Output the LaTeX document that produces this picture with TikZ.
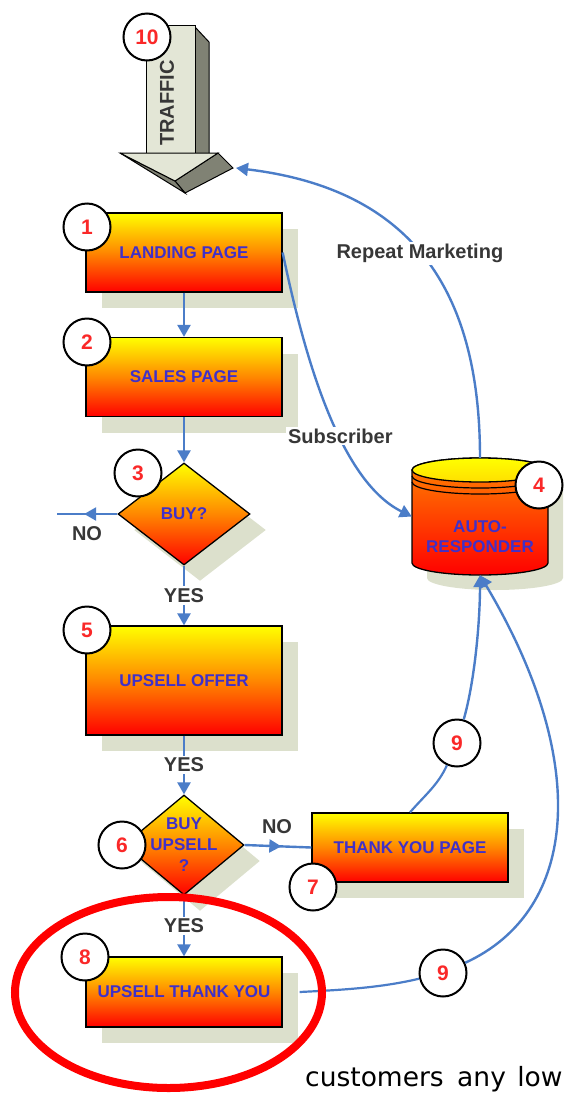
\documentclass[tikz,border=0pt]{standalone}
\usepackage{fontspec}
\setsansfont{Liberation Sans}
\newfontfamily\bodyfont{DejaVu Sans}
\usetikzlibrary{shapes.geometric,shadows,arrows.meta,decorations.markings}

\definecolor{boxblue}{RGB}{64,48,200}
\definecolor{flowblue}{RGB}{75,125,200}
\definecolor{shadowgrey}{RGB}{220,224,204}
\definecolor{darkface}{RGB}{128,130,116}
\definecolor{labelgrey}{RGB}{55,55,55}
\definecolor{numred}{RGB}{250,40,40}
\definecolor{midorange}{RGB}{255,135,0}

\tikzset{
  pagebox/.style={draw=black, line width=1.3pt, top color=yellow, bottom color=red, middle color=midorange,
    minimum width=196pt, minimum height=79pt, inner sep=0pt,
    font=\sffamily\bfseries\fontsize{17}{21}\selectfont, text=boxblue,
    general shadow={fill=shadowgrey, shadow xshift=16pt, shadow yshift=-16pt}},
  decision/.style={pagebox, diamond, minimum width=132pt, minimum height=102pt, inner sep=-6pt, align=center},
  stepnum/.style={circle, draw=black, line width=2pt, fill=white, minimum size=47pt, inner sep=0pt,
    font=\sffamily\bfseries\fontsize{21}{21}\selectfont, text=numred},
  flow/.style={color=flowblue, line width=2.4pt, -{Triangle[width=13pt,length=12pt]}},
  link/.style={color=flowblue, line width=2.2pt},
  midflow/.style={color=flowblue, line width=2.4pt, postaction={decorate},
    decoration={markings, mark=at position 0.55 with {\arrow{Triangle[width=13pt,length=12pt]}}}},
  lbl/.style={font=\sffamily\bfseries\fontsize{20}{20}\selectfont, text=labelgrey, fill=white, inner sep=2pt},
}

\begin{document}
\begin{tikzpicture}[x=1pt,y=1pt,yscale=-1,xscale=1]
\useasboundingbox (0,0) rectangle (565,1093);
\clip (0,0) rectangle (565,1093);

%Traffic arrow
\fill[darkface,draw=black,line width=1pt] (195,27) -- (209,42) -- (209,160) -- (195,160) -- cycle ;
\fill[shadowgrey!80!white,draw=black,line width=1pt] (146,25) -- (195,25) -- (195,153) -- (146,153) -- cycle ;
\fill[darkface,draw=black,line width=1pt] (218,153) -- (233,168) -- (185,193) -- (175,181) -- cycle ;
\fill[darkface,draw=black,line width=1pt] (120,153) -- (175,181) -- (185,193) -- cycle ;
\fill[shadowgrey!80!white,draw=black,line width=1pt] (120,153) -- (218,153) -- (175,181) -- cycle ;
\node[rotate=90, font=\sffamily\bfseries\fontsize{20}{20}\selectfont, text=labelgrey] (traffic) at (167,103) {TRAFFIC};
\coordinate (trafficend) at (236,168);

%Boxes and decisions
\node[pagebox] (landing) at (184,252.5) {LANDING PAGE};
\node[pagebox] (sales) at (184,377) {SALES PAGE};
\node[decision] (buy) at (184,514) {BUY?};
\node[pagebox, minimum height=109pt] (upsell) at (184,680.5) {UPSELL OFFER};
\node[decision, minimum width=120pt, minimum height=100pt] (buyup) at (184,845) {BUY\\UPSELL\\?};
\node[pagebox, minimum height=69pt] (thanks) at (410,847.5) {THANK YOU PAGE};
\node[pagebox, minimum height=70pt] (upthanks) at (184,992) {UPSELL THANK YOU};

%Auto-responder cylinder
\fill[shadowgrey] (427,485) -- (427,578) arc[start angle=180,end angle=0,x radius=68,y radius=12] -- (563,485) arc[start angle=0,end angle=-180,x radius=68,y radius=12] -- cycle ;
\shade[top color=midorange, bottom color=red, draw=black, line width=1.3pt] (412,470) -- (412,563) arc[start angle=180,end angle=0,x radius=68,y radius=12] -- (548,470) arc[start angle=0,end angle=-180,x radius=68,y radius=12] -- cycle ;
\shade[top color=yellow, bottom color=yellow!75!orange, draw=black, line width=1.3pt] (480,470) ellipse [x radius=68, y radius=12];
\draw[line width=1.2pt] (412,476) arc[start angle=180,end angle=0,x radius=68,y radius=12];
\draw[line width=1.2pt] (412,482) arc[start angle=180,end angle=0,x radius=68,y radius=12];
\node[minimum width=136pt, minimum height=117pt, inner sep=0pt] (auto) at (480,516.5) {};
\node[font=\sffamily\bfseries\fontsize{17}{20}\selectfont, text=boxblue, align=center] (autotext) at (480,537) {AUTO-\\RESPONDER};

%Connectors
\coordinate (noend) at (57,514);
\draw[flow] (landing) -- (sales);
\draw[flow] (sales) -- (buy);
\draw[flow] (buy) -- node[lbl]{YES} (upsell);
\draw[midflow] (buy.west) -- (noend);
\node[lbl, fill=none] (nobuy) at (87,534) {NO};
\draw[flow] (upsell) -- node[lbl]{YES} (buyup);
\draw[flow] (buyup) -- node[lbl]{YES} (upthanks);
\draw[midflow] (buyup.east) -- (thanks.west);
\node[lbl, fill=none] (noup) at (277,827) {NO};
\draw[flow] (landing.east) .. controls (303,350) and (338,480) .. node[lbl, pos=0.6]{Subscriber} (auto.west);
\draw[flow] (auto.north) .. controls (480,300) and (420,190) .. node[lbl, pos=0.53]{Repeat Marketing} (trafficend);

%Step numbers
\node[stepnum] (ten) at (147,37) {10};
\node[stepnum] (one) at (87,227) {1};
\node[stepnum] (two) at (87,342) {2};
\node[stepnum] (three) at (138,473) {3};
\node[stepnum] (four) at (539,485) {4};
\node[stepnum] (five) at (87,630) {5};
\node[stepnum] (six) at (122,845) {6};
\node[stepnum] (seven) at (313,887) {7};
\node[stepnum] (eight) at (85,957) {8};
\node[stepnum] (nine) at (457,743) {9};
\node[stepnum] (nineb) at (443,973) {9};

\draw[link] (thanks.north) .. controls (425,795) and (438,785) .. (nine);
\draw[flow] (nine) .. controls (475,680) and (480,620) .. (auto.south);
\draw[link] ([xshift=17pt]upthanks.east) .. controls (340,990) and (380,988) .. (nineb);
\draw[flow] (nineb) .. controls (580,910) and (590,760) .. (auto.south);

%Highlight
\draw[red, line width=8pt] (168.5,992.5) ellipse [x radius=153.5, y radius=95.5];

\node[anchor=base west, inner sep=0pt, font=\bodyfont\fontsize{26.5}{26.5}\selectfont] (caption) at (305,1086) {customers\hspace{5pt} any\hspace{3pt} low};

\end{tikzpicture}
\end{document}
